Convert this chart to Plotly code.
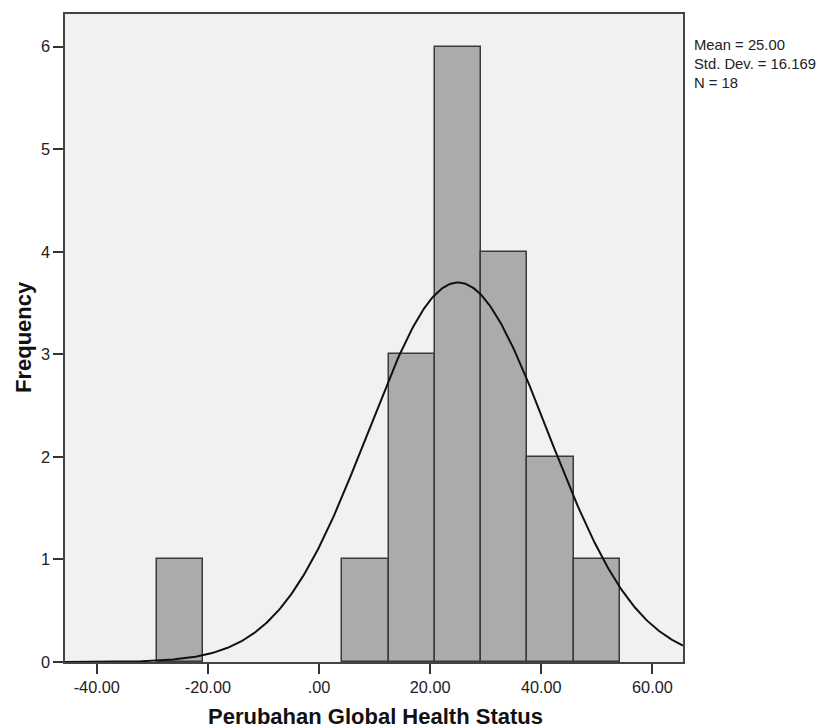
import numpy as np
import plotly.graph_objects as go

# Histogram data (bin centers, counts)
bin_centers = [-25.0, 8.333, 16.667, 25.0, 33.333, 41.667, 50.0]
counts = [1, 1, 3, 6, 4, 2, 1]
bin_width = 8.333

mean_val = 25.00
std_val = 16.169
n_val = 18

x_tick_vals = [-40, -20, 0, 20, 40, 60]
x_tick_text = ["-40.00", "-20.00", ".00", "20.00", "40.00", "60.00"]
y_tick_vals = [0, 1, 2, 3, 4, 5, 6]

x_range = [-45.72, 65.5]
y_range = [0, 6.319]

xs = np.linspace(x_range[0], x_range[1], 400)
ys = n_val * bin_width / (std_val * np.sqrt(2 * np.pi)) * np.exp(-0.5 * ((xs - mean_val) / std_val) ** 2)

fig = go.Figure()
fig.add_trace(go.Bar(
    x=bin_centers, y=counts, width=[bin_width] * len(bin_centers),
    marker=dict(color="#ABABAB", line=dict(color="#3A3A3A", width=1.5)),
    hoverinfo="skip",
))
fig.add_trace(go.Scatter(
    x=xs, y=ys, mode="lines", line=dict(color="#111111", width=2),
    hoverinfo="skip",
))

font_family = "Liberation Sans, Arial, sans-serif"
# page body has an 8px margin, so the figure is drawn 8px smaller and offset
OFF = 8
W, H = 828 - OFF, 728 - OFF
L, T = 65 - OFF, 14 - OFF
pw, ph = 618, 648
R, B = W - L - pw, H - T - ph


def px_x(x):
    return (x - OFF - L) / pw


def px_y(y):
    return (T + ph - (y - OFF)) / ph


fig.update_layout(
    width=W, height=H,
    margin=dict(l=L, r=R, t=T, b=B),
    paper_bgcolor="white",
    plot_bgcolor="#F1F1F1",
    showlegend=False,
    bargap=0,
    font=dict(family=font_family, color="#222222"),
    xaxis=dict(
        range=x_range, tickvals=x_tick_vals, ticktext=x_tick_text,
        ticks="outside", ticklen=10, tickwidth=1.5, tickcolor="#333333",
        showgrid=False, zeroline=False, automargin=False,
        showline=True, linecolor="#444444", linewidth=1.5, mirror=True,
        tickfont=dict(size=16.3, color="#222222"),
    ),
    yaxis=dict(
        range=y_range, tickvals=y_tick_vals,
        ticks="outside", ticklen=10, tickwidth=1.5, tickcolor="#333333",
        showgrid=False, zeroline=False, automargin=False,
        showline=True, linecolor="#444444", linewidth=1.5, mirror=True,
        tickfont=dict(size=16.3, color="#222222"),
    ),
)

# Axis titles
fig.add_annotation(
    xref="paper", yref="paper", x=px_x(375), y=px_y(716),
    xanchor="center", yanchor="middle", showarrow=False,
    text="<b>Perubahan Global Health Status</b>",
    font=dict(size=22, family=font_family, color="#111111"),
)
fig.add_annotation(
    xref="paper", yref="paper", x=px_x(23), y=px_y(337),
    xanchor="center", yanchor="middle", showarrow=False, textangle=-90,
    text="<b>Frequency</b>",
    font=dict(size=22, family=font_family, color="#111111"),
)

# Statistics box
stats_lines = ["Mean = %.2f" % mean_val, "Std. Dev. = %.3f" % std_val, "N = %d" % n_val]
fig.add_annotation(
    xref="paper", yref="paper",
    x=px_x(692), y=px_y(64),
    xanchor="left", yanchor="middle", align="left",
    text="<br>".join(stats_lines), showarrow=False,
    font=dict(size=14.8, family=font_family, color="#222222"),
)

fig.write_html("out.html")
